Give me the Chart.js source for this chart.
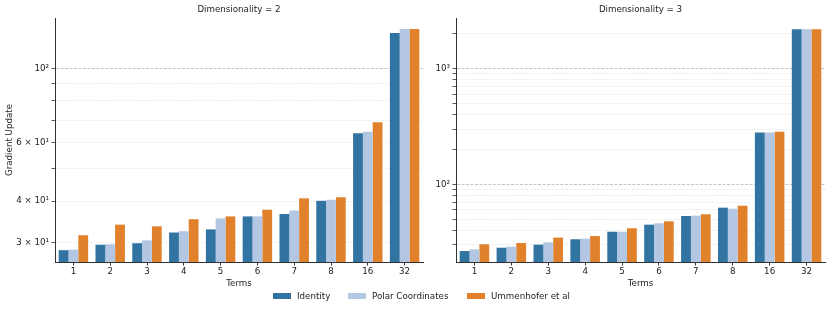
<!DOCTYPE html>
<html>
<head>
<meta charset="utf-8">
<script src="https://cdn.jsdelivr.net/npm/chart.js@4"></script>
<style>
  body { margin: 0; background: #fff; }
  #wrap { position: relative; width: 831px; height: 311px; overflow: hidden; font-family: 'DejaVu Sans'; font-size: 8.7px; color: #222; }
  canvas { position: absolute; top: 0; }
  #left { left: 0; }
  #right { left: 410px; }
  .lg { position: absolute; top: 290px; height: 12px; line-height: 12px; white-space: nowrap; }
  .lg span.sw { position: absolute; left: 0; top: 3px; width: 18px; height: 6px; }
  .lg span.tx { position: absolute; left: 24px; top: 0; }
</style>
</head>
<body>
<div id="wrap">
  <canvas id="left" width="440" height="311"></canvas>
  <canvas id="right" width="421" height="311"></canvas>
  <div class="lg" style="left:273px"><span class="sw" style="background:#3274a1"></span><span class="tx">Identity</span></div>
  <div class="lg" style="left:348px"><span class="sw" style="background:#b3c7e2"></span><span class="tx">Polar Coordinates</span></div>
  <div class="lg" style="left:467px"><span class="sw" style="background:#e1812c"></span><span class="tx">Ummenhofer et al</span></div>
</div>
<script>
// DATA
// -----------------------------------------------------------------------------
var terms = ['1', '2', '3', '4', '5', '6', '7', '8', '16', '32'];

// Dimensionality = 2
var identity2 = [28.5, 29.6, 29.9, 32.2, 32.9, 36.0, 36.6, 40.1, 64.0, 128.1];
var polar2    = [28.6, 29.7, 30.5, 32.5, 35.5, 36.0, 37.5, 40.4, 64.6, 131.5];
var umm2      = [31.6, 34.0, 33.6, 35.3, 36.0, 37.7, 40.8, 41.1, 69.0, 131.5];

// Dimensionality = 3
var identity3 = [26.5, 28.3, 30.1, 33.5, 38.9, 44.8, 53.2, 62.8, 281, 2188];
var polar3    = [27.4, 28.9, 31.5, 33.9, 38.9, 46.0, 53.6, 61.5, 281, 2188];
var umm3      = [30.3, 31.1, 34.6, 35.7, 41.7, 47.9, 55.1, 65.3, 285, 2188];

// log ticks (gridlines) and which of them get a label
var yTicks2 = [30, 40, 50, 60, 70, 80, 90, 100];
var yLabels2 = { 30: '3 × 10¹', 40: '4 × 10¹', 60: '6 × 10¹', 100: '10²' };
var yTicks3 = [30, 40, 50, 60, 70, 80, 90, 100, 200, 300, 400, 500, 600, 700, 800, 900, 1000, 2000];
var yLabels3 = { 100: '10²', 1000: '10³' };

var seriesNames = ['Identity', 'Polar Coordinates', 'Ummenhofer et al'];
var colors = ['#3274a1', '#b3c7e2', '#e1812c'];

// SETUP
// -----------------------------------------------------------------------------
Chart.defaults.font.family = 'DejaVu Sans';
Chart.defaults.font.size = 8.7;
Chart.defaults.color = '#222';

function isDecade(v) {
    var l = Math.log10(v);
    return Math.abs(l - Math.round(l)) < 1e-9;
}

function makePanel(id, title, series, yMin, yMax, ticks, labels, opts) {
    var datasets = series.map(function(d, i) {
        return {
            label: seriesNames[i],
            data: d,
            backgroundColor: colors[i],
            borderWidth: 0,
            barPercentage: 1.0,
            categoryPercentage: 0.8
        };
    });

    return new Chart(document.getElementById(id), {
        type: 'bar',
        data: { labels: terms, datasets: datasets },
        options: {
            responsive: false,
            animation: false,
            layout: { padding: { left: 0, right: opts.padRight, top: 0, bottom: 19 } },
            plugins: {
                legend: { display: false },
                tooltip: { enabled: false },
                title: {
                    display: true,
                    text: title,
                    fullSize: false,
                    color: '#222',
                    font: { size: 8.7, weight: 'normal' },
                    padding: { top: 5, bottom: 2.56 }
                }
            },
            scales: {
                x: {
                    grid: { offset: false, drawOnChartArea: false, tickLength: 3.5, tickColor: '#333' },
                    border: { color: '#333', width: 1 },
                    ticks: { padding: 1, color: '#222' },
                    title: { display: true, text: 'Terms', color: '#222', padding: 2.8 },
                    afterFit: function(axis) { axis.height = 30; }
                },
                y: {
                    type: 'logarithmic',
                    min: yMin,
                    max: yMax,
                    bounds: 'data',
                    afterBuildTicks: function(axis) {
                        axis.ticks = ticks.map(function(v) { return { value: v }; });
                    },
                    ticks: {
                        autoSkip: false,
                        padding: 2.5,
                        color: '#222',
                        callback: function(value) { return labels[value] || ''; }
                    },
                    grid: {
                        lineWidth: 0.8,
                        tickLength: 3.5,
                        tickColor: '#333',
                        tickWidth: 0.8,
                        color: function(ctx) {
                            return ctx.tick && isDecade(ctx.tick.value) ? '#b5b5b5' : '#dcdcdc';
                        }
                    },
                    border: {
                        color: '#333',
                        width: 1,
                        dash: function(ctx) {
                            if (!ctx.tick) return [];
                            return isDecade(ctx.tick.value) ? [3, 1.5] : [1, 1.5];
                        }
                    },
                    title: { display: opts.yTitle, text: 'Gradient Update', color: '#222', padding: 4.8 },
                    afterFit: function(axis) { axis.width = opts.yWidth; }
                }
            }
        }
    });
}

// CHARTS
// -----------------------------------------------------------------------------
var left = makePanel('left', 'Dimensionality = 2', [identity2, polar2, umm2],
    26.26, 142, yTicks2, yLabels2, { padRight: 17, yWidth: 55, yTitle: true });

var right = makePanel('right', 'Dimensionality = 3', [identity3, polar3, umm3],
    21.3, 2742, yTicks3, yLabels3, { padRight: 6, yWidth: 46, yTitle: false });
</script>
</body>
</html>
